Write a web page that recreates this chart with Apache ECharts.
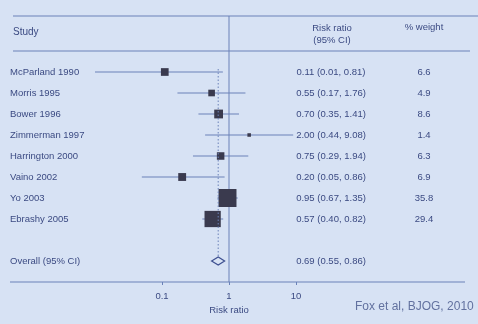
<!DOCTYPE html>
<html><head><meta charset="utf-8">
<script src="https://cdn.jsdelivr.net/npm/echarts@6/dist/echarts.min.js"></script>
<style>html,body{margin:0;padding:0;background:#d7e2f4;}#c{width:478px;height:324px;}</style>
</head><body><div id="c"></div>
<script>
// ---- data ----
const studies = ['McParland 1990','Morris 1995','Bower 1996','Zimmerman 1997','Harrington 2000','Vaino 2002','Yo 2003','Ebrashy 2005'];
const rr      = [0.11, 0.55, 0.70, 2.00, 0.75, 0.20, 0.95, 0.57];
const lower   = [0.01, 0.17, 0.35, 0.44, 0.29, 0.05, 0.67, 0.40];
const upper   = [0.81, 1.76, 1.41, 9.08, 1.94, 0.86, 1.35, 0.82];
const weights = [6.6, 4.9, 8.6, 1.4, 6.3, 6.9, 35.8, 29.4];
const overallLabel = 'Overall (95% CI)';
const overallRR = 0.69, overallLo = 0.55, overallHi = 0.86;
const tickValues = [0.1, 1, 10];

// ---- derived ----
const fmt = v => v.toFixed(2);
const rows = studies.concat(['', overallLabel]);
const rrText = studies.map((s,i)=>fmt(rr[i])+' ('+fmt(lower[i])+', '+fmt(upper[i])+')')
  .concat([' ', fmt(overallRR)+' ('+fmt(overallLo)+', '+fmt(overallHi)+')']);
const wText = weights.map(w=>w.toFixed(1)).concat([' ', '  ']);
const overallIdx = rows.indexOf(overallLabel);

const TXT = '#3b4a82', LINE = '#6a81b8', MARK = '#3a3a4e', BG = '#d7e2f4';
const FONT = '"Liberation Sans", Arial, sans-serif';

const chart = echarts.init(document.getElementById('c'), null, {renderer:'canvas'});
const option = {
  backgroundColor: BG,
  textStyle: {fontFamily: FONT},
  animation: false,
  grid: [
    {left: 95, width: 268, top: 61.5, height: 210, outerBoundsMode: 'none'},
    {left: 162, width: 134, top: 281, height: 1, outerBoundsMode: 'none'}
  ],
  xAxis: [
    {type: 'log', gridIndex: 0, min: 0.01, max: 100, show: false},
    {type: 'log', gridIndex: 1, min: tickValues[0], max: tickValues[tickValues.length-1],
     axisLine: {show: false}, splitLine: {show: false},
     axisTick: {show: true, length: 3, lineStyle: {color: LINE}},
     axisLabel: {color: TXT, fontSize: 9.5, margin: 9, fontFamily: FONT},
     name: 'Risk ratio', nameLocation: 'middle', nameGap: 23,
     nameTextStyle: {color: TXT, fontSize: 9.5, fontFamily: FONT}}
  ],
  yAxis: [
    {type: 'category', gridIndex: 0, data: rows, inverse: true,
     axisLine: {show: false}, axisTick: {show: false}, splitLine: {show: false},
     axisLabel: {align: 'left', margin: 85, color: TXT, fontSize: 9.5, interval: 0, fontFamily: FONT}},
    {type: 'category', gridIndex: 0, data: rrText, inverse: true, position: 'right', offset: -32,
     axisLine: {show: false}, axisTick: {show: false}, splitLine: {show: false},
     axisLabel: {align: 'center', margin: 0, color: TXT, fontSize: 9.5, interval: 0, fontFamily: FONT}},
    {type: 'category', gridIndex: 0, data: wText, inverse: true, position: 'right', offset: 61,
     axisLine: {show: false}, axisTick: {show: false}, splitLine: {show: false},
     axisLabel: {align: 'center', margin: 0, color: TXT, fontSize: 9.5, interval: 0, fontFamily: FONT}},
    {type: 'value', gridIndex: 1, show: false}
  ],
  series: [
    {
      type: 'custom', xAxisIndex: 0, yAxisIndex: 0,
      encode: {x: [0,1,2], y: 4},
      data: studies.map((s,i)=>[rr[i], lower[i], upper[i], weights[i], i]),
      renderItem(params, api) {
        const y = api.value(4);
        const pLo = api.coord([api.value(1), y]);
        const pHi = api.coord([api.value(2), y]);
        const p = api.coord([api.value(0), y]);
        const s = 3 * Math.sqrt(api.value(3));
        return {type: 'group', children: [
          {type: 'line', shape: {x1: pLo[0], y1: pLo[1], x2: pHi[0], y2: pHi[1]}, style: {stroke: LINE, lineWidth: 1}},
          {type: 'rect', shape: {x: p[0]-s/2, y: p[1]-s/2, width: s, height: s}, style: {fill: MARK}}
        ]};
      }
    },
    {
      type: 'custom', xAxisIndex: 0, yAxisIndex: 0,
      encode: {x: [0,1,2], y: 3},
      data: [[overallRR, overallLo, overallHi, overallIdx]],
      renderItem(params, api) {
        const y = api.value(3);
        const p = api.coord([api.value(0), y]);
        const lo = api.coord([api.value(1), y]);
        const hi = api.coord([api.value(2), y]);
        const top = api.coord([api.value(0), 0]);
        const h = 4;
        return {type: 'group', children: [
          {type: 'line', shape: {x1: p[0], y1: top[1]-3, x2: p[0], y2: p[1]-h},
           style: {stroke: LINE, lineWidth: 1, lineDash: [1.5, 2]}},
          {type: 'polygon', shape: {points: [[lo[0], p[1]], [p[0], p[1]-h], [hi[0], p[1]], [p[0], p[1]+h]]},
           style: {fill: BG, stroke: '#3d4f90', lineWidth: 1.2}}
        ]};
      }
    }
  ]
};
chart.setOption(option);

// decorative rules: null line at ratio 1 located through the axis scale
const x1 = chart.convertToPixel({xAxisIndex: 0}, 1);
chart.setOption({
  graphic: [
    {type: 'line', shape: {x1: 13, y1: 16, x2: 478, y2: 16}, style: {stroke: LINE, lineWidth: 1}},
    {type: 'line', shape: {x1: 13, y1: 51, x2: 470, y2: 51}, style: {stroke: LINE, lineWidth: 1}},
    {type: 'line', shape: {x1: 10, y1: 282, x2: 465, y2: 282}, style: {stroke: LINE, lineWidth: 1}},
    {type: 'line', z: -1, shape: {x1: x1, y1: 16, x2: x1, y2: 282}, style: {stroke: LINE, lineWidth: 1}},
    {type: 'text', left: 13, top: 27, style: {text: 'Study', fill: TXT, font: '10px ' + FONT}},
    {type: 'text', x: 332, y: 28, style: {text: 'Risk ratio', fill: TXT, font: '9.5px ' + FONT, textAlign: 'center', textVerticalAlign: 'middle'}},
    {type: 'text', x: 332, y: 40, style: {text: '(95% CI)', fill: TXT, font: '9.5px ' + FONT, textAlign: 'center', textVerticalAlign: 'middle'}},
    {type: 'text', x: 424, y: 27, style: {text: '% weight', fill: TXT, font: '9.5px ' + FONT, textAlign: 'center', textVerticalAlign: 'middle'}},
    {type: 'text', x: 355, y: 307, style: {text: 'Fox et al, BJOG, 2010', fill: '#62719f', font: '12px ' + FONT, textAlign: 'left', textVerticalAlign: 'middle'}}
  ]
});
</script>
</body></html>
